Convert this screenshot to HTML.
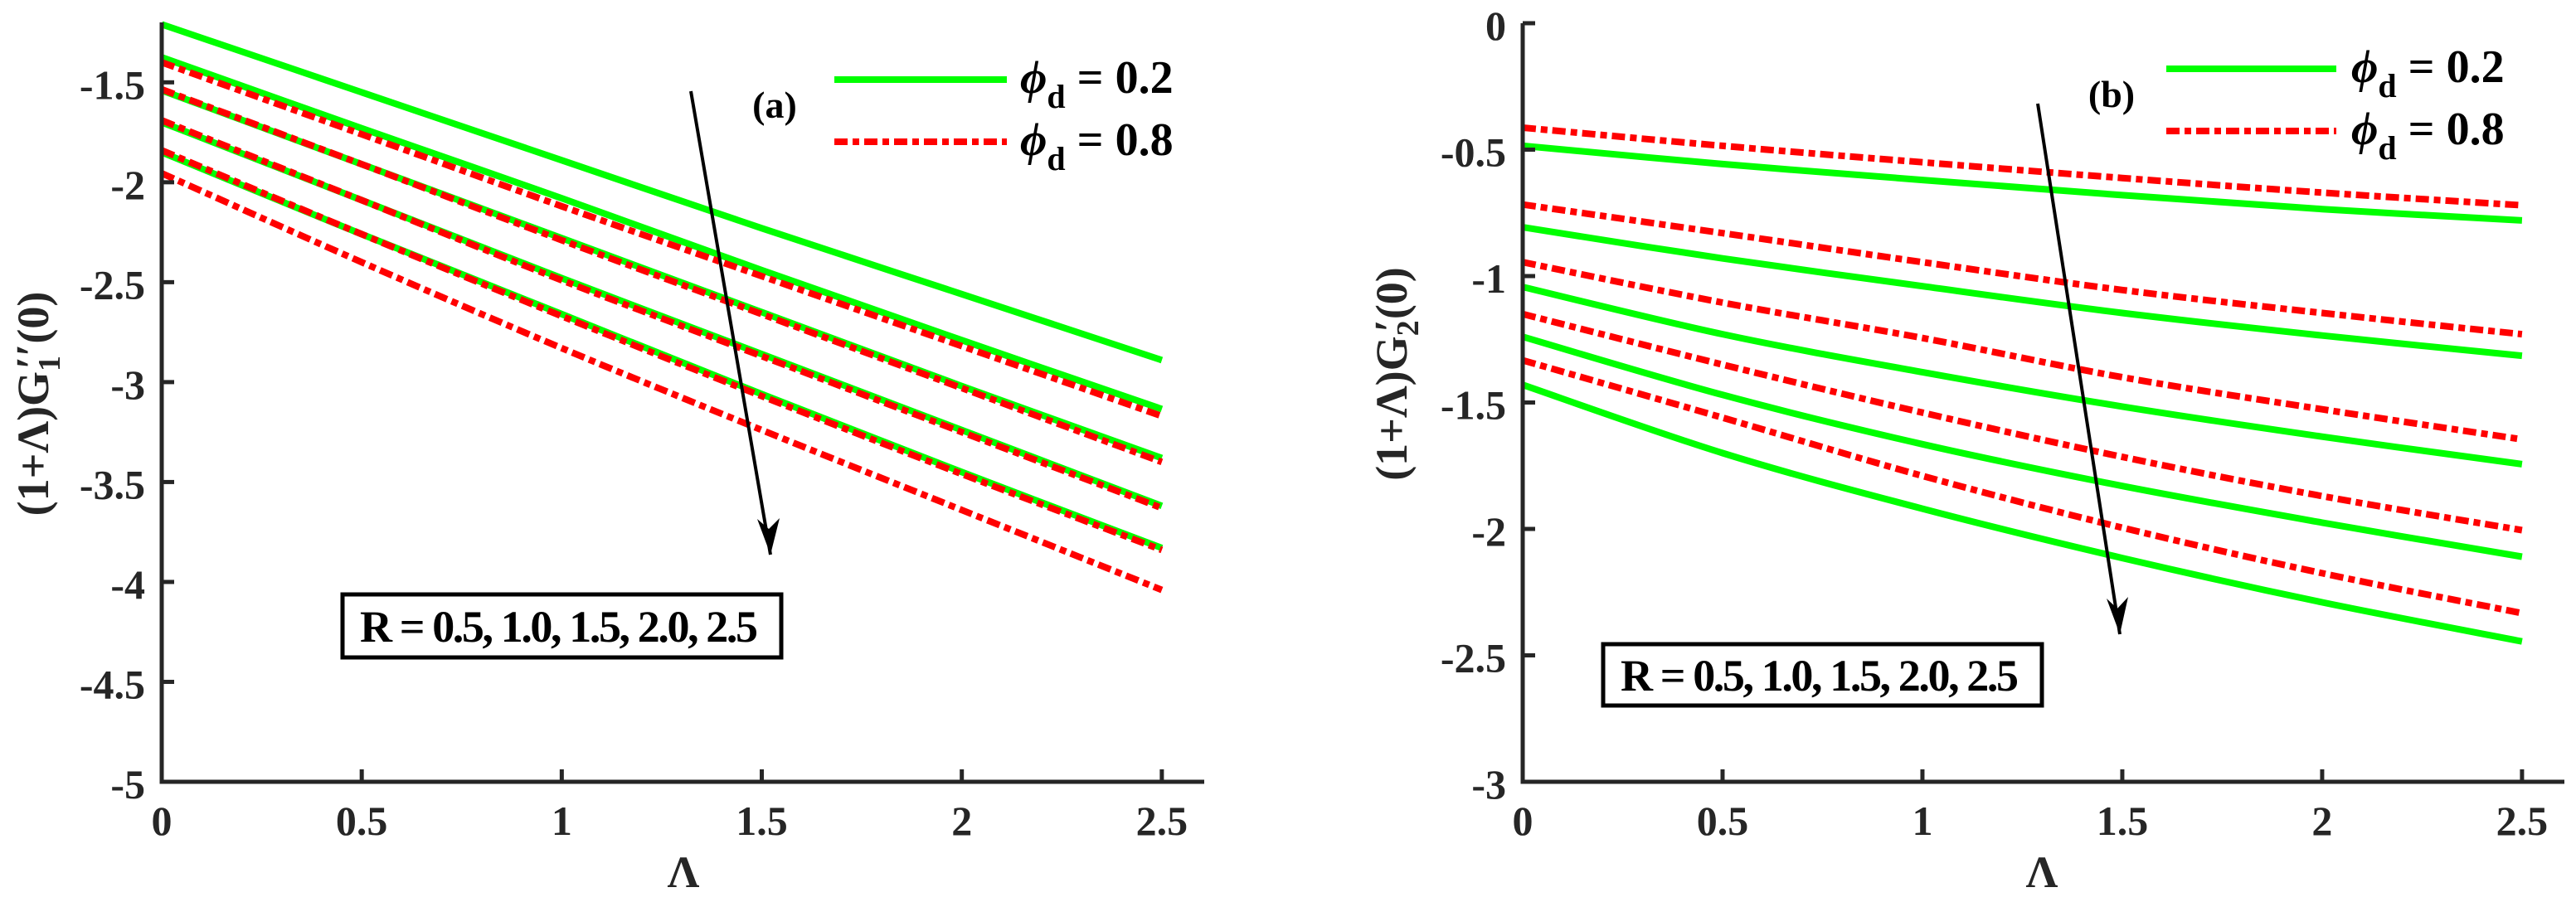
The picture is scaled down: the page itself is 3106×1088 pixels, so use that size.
<!DOCTYPE html>
<html><head><meta charset="utf-8"><style>
html,body{margin:0;padding:0;background:#fff;overflow:hidden;}
text{font-family:"Liberation Serif","Times New Roman",Times,"Noto Serif CJK SC","DejaVu Serif",serif !important;font-weight:bold;}
</style></head><body>
<svg id="chart" width="3106" height="1088" viewBox="0 0 3106 1088" xmlns="http://www.w3.org/2000/svg" style="position:absolute;left:0;top:0">
<g id="pa"></g>
<g id="pb"></g>
</svg>
<script>
const lambdaX = [0, 0.5, 1, 1.5, 2, 2.5];
const aGreen1 = [-1.21, -1.55, -1.89, -2.23, -2.56, -2.89];
const aGreen2 = [-1.375, -1.73, -2.08, -2.44, -2.79, -3.135];
const aGreen3 = [-1.54, -1.91, -2.28, -2.65, -3.02, -3.38];
const aGreen4 = [-1.70, -2.09, -2.48, -2.86, -3.24, -3.62];
const aGreen5 = [-1.85, -2.26, -2.66, -3.06, -3.45, -3.83];
const aRed1 = [-1.40, -1.76, -2.12, -2.47, -2.82, -3.17];
const aRed2 = [-1.535, -1.91, -2.29, -2.66, -3.03, -3.40];
const aRed3 = [-1.69, -2.09, -2.49, -2.87, -3.25, -3.63];
const aRed4 = [-1.84, -2.26, -2.67, -3.07, -3.46, -3.84];
const aRed5 = [-1.955, -2.40, -2.83, -3.24, -3.64, -4.04];
const bGreen1 = [-0.485, -0.557, -0.62, -0.68, -0.735, -0.78];
const bGreen2 = [-0.807, -0.93, -1.04, -1.146, -1.235, -1.315];
const bGreen3 = [-1.043, -1.23, -1.38, -1.516, -1.635, -1.744];
const bGreen4 = [-1.24, -1.47, -1.665, -1.83, -1.975, -2.11];
const bGreen5 = [-1.43, -1.70, -1.92, -2.115, -2.29, -2.445];
const bRed1 = [-0.413, -0.485, -0.55, -0.612, -0.67, -0.72];
const bRed2 = [-0.717, -0.83, -0.945, -1.055, -1.146, -1.23];
const bRed3 = [-0.945, -1.105, -1.245, -1.40, -1.527, -1.646];
const bRed4 = [-1.15, -1.35, -1.54, -1.715, -1.87, -2.005];
const bRed5 = [-1.333, -1.56, -1.79, -1.995, -2.175, -2.333];
const xTicks = [0, 0.5, 1, 1.5, 2, 2.5];
const xTickLabels = ["0", "0.5", "1", "1.5", "2", "2.5"];
const aYTicks = [-5, -4.5, -4, -3.5, -3, -2.5, -2, -1.5];
const aYTickLabels = ["-5", "-4.5", "-4", "-3.5", "-3", "-2.5", "-2", "-1.5"];
const bYTicks = [-3, -2.5, -2, -1.5, -1, -0.5, 0];
const bYTickLabels = ["-3", "-2.5", "-2", "-1.5", "-1", "-0.5", "0"];

const NS = "http://www.w3.org/2000/svg";
function mk(parent, tag, attrs, text) {
  const e = document.createElementNS(NS, tag);
  for (const k in attrs) e.setAttribute(k, attrs[k]);
  if (text !== undefined) e.textContent = text;
  parent.appendChild(e);
  return e;
}
function smoothPath(pts) {
  let d = "M" + pts[0][0].toFixed(1) + "," + pts[0][1].toFixed(1);
  for (let i = 0; i < pts.length - 1; i++) {
    const p0 = pts[Math.max(0, i - 1)], p1 = pts[i], p2 = pts[i + 1], p3 = pts[Math.min(pts.length - 1, i + 2)];
    const c1x = p1[0] + (p2[0] - p0[0]) / 6, c1y = p1[1] + (p2[1] - p0[1]) / 6;
    const c2x = p2[0] - (p3[0] - p1[0]) / 6, c2y = p2[1] - (p3[1] - p1[1]) / 6;
    d += ` C${c1x.toFixed(1)},${c1y.toFixed(1)} ${c2x.toFixed(1)},${c2y.toFixed(1)} ${p2[0].toFixed(1)},${p2[1].toFixed(1)}`;
  }
  return d;
}

function drawPanel(g, cfg) {
  const sx = v => cfg.x0 + (v - cfg.xmin) / (cfg.xmax - cfg.xmin) * (cfg.x1 - cfg.x0);
  const sy = v => cfg.yb - (v - cfg.ymin) / (cfg.ymax - cfg.ymin) * (cfg.yb - cfg.yt);
  cfg.greens.forEach((s, i) => {
    const pts = lambdaX.map((x, j) => [sx(x), sy(s[j])]);
    const p = mk(g, "path", {d: smoothPath(pts), fill: "none", stroke: "#00ff00", "stroke-width": 8});
    
    
  });
  cfg.reds.forEach((s, i) => {
    const pts = lambdaX.map((x, j) => [sx(x), sy(s[j])]);
    const p = mk(g, "path", {d: smoothPath(pts), fill: "none", stroke: "#ff0000", "stroke-width": 8, "stroke-dasharray": "16 6 8 6"});
    
    
  });
  const ax = mk(g, "path", {d: `M${cfg.x0},${cfg.yt} L${cfg.x0},${cfg.yb} L${cfg.x1},${cfg.yb}`, fill: "none", stroke: "#262626", "stroke-width": 5});
  
  
  xTicks.forEach((t, i) => {
    const x = sx(t);
    const tk = mk(g, "line", {x1: x, x2: x, y1: cfg.yb, y2: cfg.yb - 15, stroke: "#262626", "stroke-width": 5});
    
    
    const tl = mk(g, "text", {x: x, y: cfg.yb + 64, "font-size": 50, "text-anchor": "middle", fill: "#262626"}, xTickLabels[i]);
    
    
  });
  cfg.yTicks.forEach((t, i) => {
    const y = sy(t);
    const tk = mk(g, "line", {x1: cfg.x0, x2: cfg.x0 + 15, y1: y, y2: y, stroke: "#262626", "stroke-width": 5});
    
    
    const tl = mk(g, "text", {x: cfg.x0 - 20, y: y + 20, "font-size": 50, "text-anchor": "end", fill: "#262626"}, cfg.yTickLabels[i]);
    
    
  });
}

drawPanel(document.getElementById("pa"), {x0: 195, x1: 1452, xmin: 0, xmax: 2.606, yt: 27, yb: 943, ymin: -5, ymax: -1.2,
  greens: [aGreen1, aGreen2, aGreen3, aGreen4, aGreen5], reds: [aRed1, aRed2, aRed3, aRed4, aRed5],
  yTicks: aYTicks, yTickLabels: aYTickLabels});
drawPanel(document.getElementById("pb"), {x0: 1836, x1: 3092, xmin: 0, xmax: 2.606, yt: 28, yb: 943, ymin: -3, ymax: 0,
  greens: [bGreen1, bGreen2, bGreen3, bGreen4, bGreen5], reds: [bRed1, bRed2, bRed3, bRed4, bRed5],
  yTicks: bYTicks, yTickLabels: bYTickLabels});
</script>
<svg style="position:absolute;left:0;top:0" width="3106" height="1088" xmlns="http://www.w3.org/2000/svg">
<text transform="translate(58,487) rotate(-90)" font-size="54" text-anchor="middle" fill="#262626">(1+Λ)G<tspan font-size="38" dy="14">1</tspan><tspan dy="-16" dx="-16">′′</tspan><tspan dy="2">(0)</tspan></text>
<text x="824" y="1070" font-size="54" text-anchor="middle" fill="#262626">Λ</text>
<text x="934" y="142" font-size="46" text-anchor="middle" font-weight="normal" fill="#000">(a)</text>
<line x1="833" y1="110" x2="929" y2="669" stroke="#000" stroke-width="4"/>
<path d="M929,669 L913,626 L927,638 L940,625 Z" fill="#000"/>
<rect x="413" y="717" width="529" height="76" fill="#fff" stroke="#000" stroke-width="5"/>
<text x="434" y="774" font-size="54" fill="#000" textLength="480">R = 0.5, 1.0, 1.5, 2.0, 2.5</text>
<line x1="1006" y1="96" x2="1214" y2="96" stroke="#00ff00" stroke-width="8"/>
<line x1="1006" y1="171" x2="1214" y2="171" stroke="#ff0000" stroke-width="8" stroke-dasharray="16 6 8 6"/>
<text x="1230" y="112" font-size="56" fill="#000"><tspan font-style="italic">ϕ</tspan><tspan font-size="40" dy="18">d</tspan><tspan dy="-18"> = 0.2</tspan></text>
<text x="1230" y="187" font-size="56" fill="#000"><tspan font-style="italic">ϕ</tspan><tspan font-size="40" dy="18">d</tspan><tspan dy="-18"> = 0.8</tspan></text>
<text transform="translate(1696,451) rotate(-90)" font-size="54" text-anchor="middle" fill="#262626">(1+Λ)G<tspan font-size="38" dy="14">2</tspan><tspan dy="-16" dx="-14">′</tspan><tspan dy="2">(0)</tspan></text>
<text x="2462" y="1070" font-size="54" text-anchor="middle" fill="#262626">Λ</text>
<text x="2546" y="129" font-size="46" text-anchor="middle" font-weight="normal" fill="#000">(b)</text>
<line x1="2457" y1="125" x2="2556" y2="765" stroke="#000" stroke-width="4"/>
<path d="M2556,765 L2540,722 L2553,734 L2566,720 Z" fill="#000"/>
<rect x="1933" y="777" width="529" height="74" fill="#fff" stroke="#000" stroke-width="5"/>
<text x="1954" y="833" font-size="54" fill="#000" textLength="480">R = 0.5, 1.0, 1.5, 2.0, 2.5</text>
<line x1="2612" y1="83" x2="2817" y2="83" stroke="#00ff00" stroke-width="8"/>
<line x1="2612" y1="158" x2="2817" y2="158" stroke="#ff0000" stroke-width="8" stroke-dasharray="16 6 8 6"/>
<text x="2835" y="99" font-size="56" fill="#000"><tspan font-style="italic">ϕ</tspan><tspan font-size="40" dy="18">d</tspan><tspan dy="-18"> = 0.2</tspan></text>
<text x="2835" y="174" font-size="56" fill="#000"><tspan font-style="italic">ϕ</tspan><tspan font-size="40" dy="18">d</tspan><tspan dy="-18"> = 0.8</tspan></text>
</svg>
</body></html>
